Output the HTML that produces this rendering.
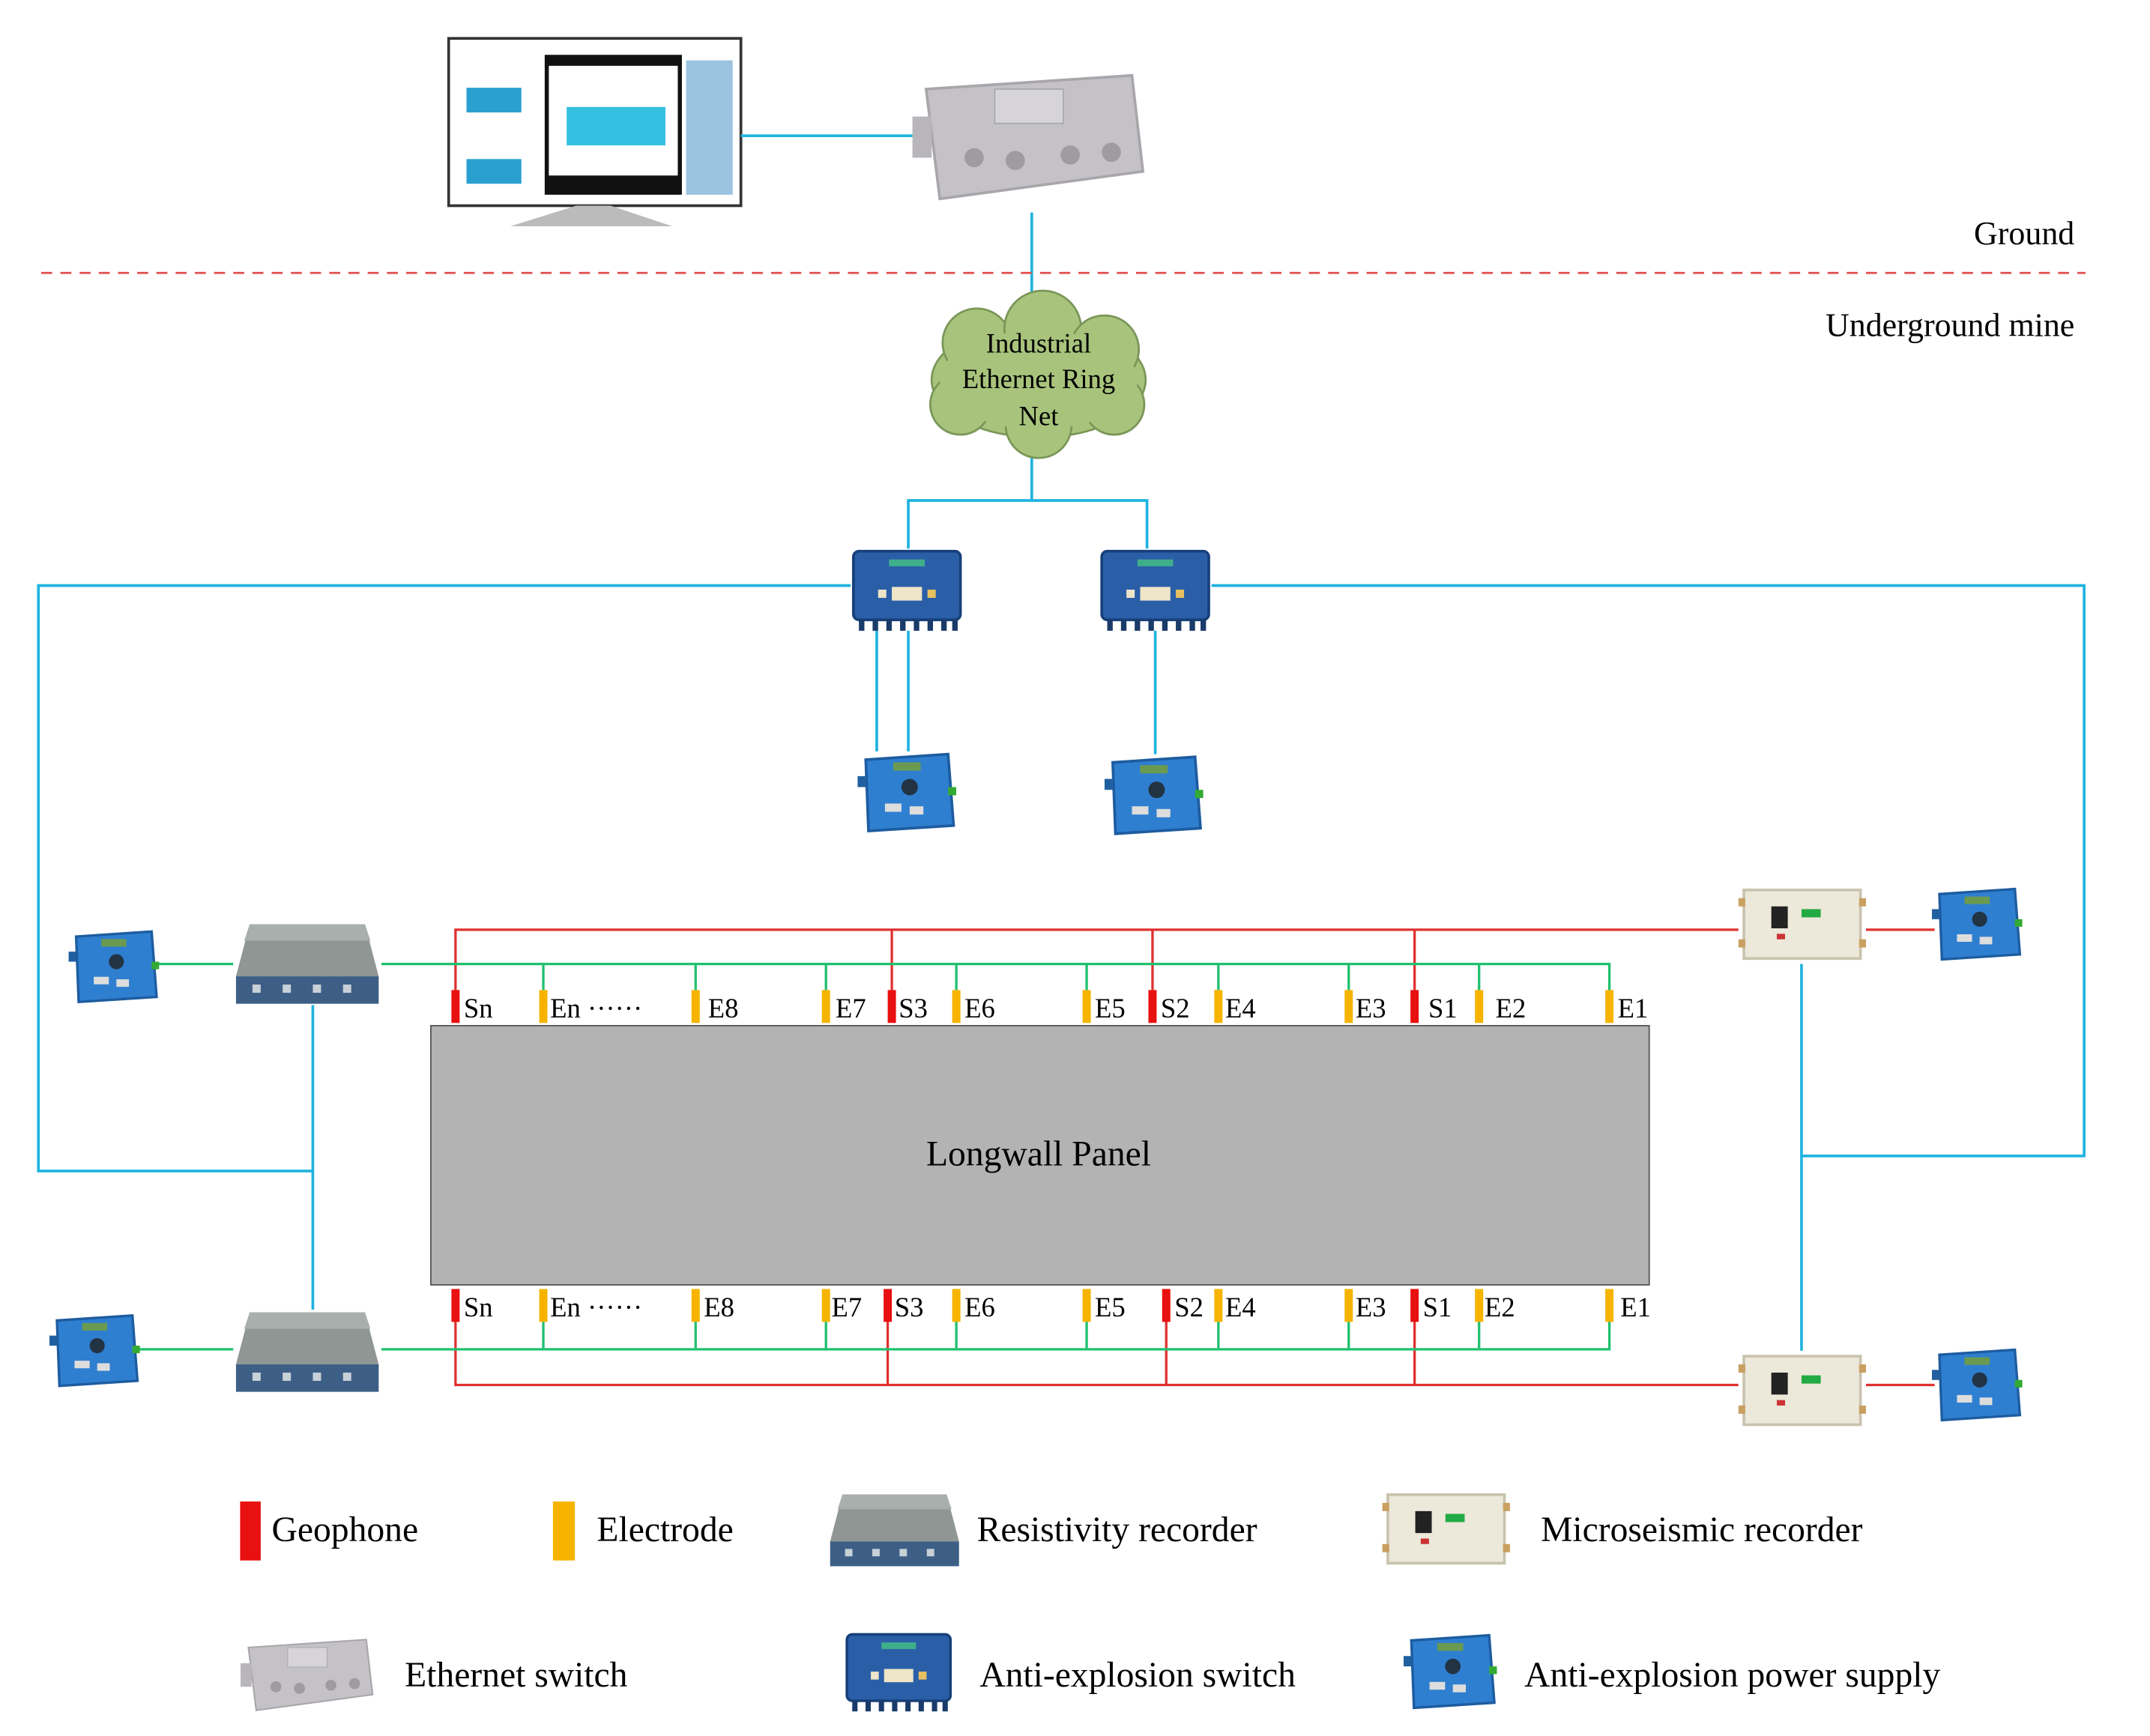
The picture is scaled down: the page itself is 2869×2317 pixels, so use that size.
<!DOCTYPE html>
<html><head><meta charset="utf-8"><style>html,body{margin:0;padding:0;background:#fff}svg{display:block}</style></head>
<body>
<svg width="2869" height="2317" viewBox="0 0 1567 1266" preserveAspectRatio="none" xmlns="http://www.w3.org/2000/svg" font-family="Liberation Serif, serif">
<defs>
<symbol id="bsw" viewBox="0 0 82 62">
<rect x="2" y="2" width="78" height="50" rx="4" fill="#2a5fa8" stroke="#17407a" stroke-width="2"/>
<rect x="28" y="8" width="26" height="5" fill="#3fae8a"/>
<rect x="30" y="28" width="22" height="10" fill="#eee4c8"/>
<rect x="20" y="30" width="6" height="6" fill="#eee4c8"/>
<rect x="56" y="30" width="6" height="6" fill="#e8c060"/>
<g fill="#1a3b6a"><rect x="6" y="52" width="4" height="8"/><rect x="16" y="52" width="4" height="8"/><rect x="26" y="52" width="4" height="8"/><rect x="36" y="52" width="4" height="8"/><rect x="46" y="52" width="4" height="8"/><rect x="56" y="52" width="4" height="8"/><rect x="66" y="52" width="4" height="8"/><rect x="74" y="52" width="4" height="8"/></g>
</symbol>
<symbol id="pwr" viewBox="0 0 72 60">
<polygon points="6,6 66,2 70,54 8,58" fill="#2f7fd0" stroke="#1d5ca0" stroke-width="2"/>
<rect x="26" y="8" width="20" height="6" fill="#6a9a50"/>
<circle cx="38" cy="26" r="6" fill="#234"/>
<rect x="20" y="38" width="12" height="6" fill="#ddd"/>
<rect x="38" y="40" width="10" height="6" fill="#ddd"/>
<rect x="0" y="18" width="6" height="8" fill="#2060a0"/><rect x="66" y="26" width="6" height="6" fill="#3a3"/>
</symbol>
<symbol id="res" viewBox="0 0 108 62">
<polygon points="12,2 96,2 106,40 2,40" fill="#8f9694"/>
<polygon points="12,2 96,2 100,14 8,14" fill="#a9afad"/>
<rect x="2" y="40" width="104" height="20" fill="#3d5f86"/>
<g fill="#c8d0d8"><rect x="14" y="46" width="6" height="6"/><rect x="36" y="46" width="6" height="6"/><rect x="58" y="46" width="6" height="6"/><rect x="80" y="46" width="6" height="6"/></g>
</symbol>
<symbol id="mic" viewBox="0 0 93 58">
<rect x="4" y="4" width="85" height="50" fill="#ece8da" stroke="#c9c3ae" stroke-width="2"/>
<rect x="24" y="16" width="12" height="16" fill="#222"/>
<rect x="46" y="18" width="14" height="6" fill="#2a4"/>
<rect x="28" y="36" width="6" height="4" fill="#c33"/>
<g fill="#c9a060"><rect x="0" y="10" width="5" height="6"/><rect x="0" y="40" width="5" height="6"/><rect x="88" y="10" width="5" height="6"/><rect x="88" y="40" width="5" height="6"/></g>
</symbol>
<symbol id="esw" viewBox="0 0 170 110">
<polygon points="10,20 160,10 168,80 20,100" fill="#c4c2c6" stroke="#a8a6aa" stroke-width="2"/>
<rect x="60" y="20" width="50" height="25" fill="#d6d4d8" stroke="#aaa"/>
<g fill="#9e9ca0"><circle cx="45" cy="70" r="7"/><circle cx="75" cy="72" r="7"/><circle cx="115" cy="68" r="7"/><circle cx="145" cy="66" r="7"/></g>
<rect x="0" y="40" width="14" height="30" fill="#b8b6ba"/>
</symbol>
</defs>

<rect x="327" y="28" width="213" height="122" fill="#fff" stroke="#333" stroke-width="2"/>
<rect x="397" y="40" width="100" height="102" fill="#111"/>
<rect x="400" y="48" width="94" height="80" fill="#fff"/>
<rect x="413" y="78" width="72" height="28" fill="#34c0e0"/>
<rect x="340" y="64" width="40" height="18" fill="#2aa0d0"/>
<rect x="340" y="116" width="40" height="18" fill="#2aa0d0"/>
<rect x="500" y="44" width="34" height="98" fill="#9cc4e0"/>
<polygon points="420,150 445,150 490,165 372,165" fill="#bbb"/>

<use href="#esw" x="665" y="45" width="170" height="110"/>
<g stroke="#1fb3e0" stroke-width="2" fill="none">
<line x1="540" y1="99" x2="665" y2="99"/>
<line x1="752" y1="155" x2="752" y2="230"/>
<line x1="752" y1="330" x2="752" y2="365"/>
<polyline points="662,400 662,365 836,365 836,400"/>
<line x1="639" y1="460" x2="639" y2="548"/>
<line x1="662" y1="460" x2="662" y2="548"/>
<line x1="842" y1="460" x2="842" y2="550"/>
<polyline points="620,427 28,427 28,854 228,854"/>
<line x1="228" y1="733" x2="228" y2="955"/>
<polyline points="883,427 1519,427 1519,843 1313,843"/>
<line x1="1313" y1="703" x2="1313" y2="985"/>
</g>
<line x1="30" y1="199" x2="1520" y2="199" stroke="#e05050" stroke-width="1.5" stroke-dasharray="8,6"/>
<text x="1512" y="178" font-size="24" text-anchor="end">Ground</text>
<text x="1512" y="245" font-size="24" text-anchor="end">Underground mine</text>

<g fill="#a8c47c" stroke="#7a9658" stroke-width="1.5">
<ellipse cx="757" cy="277" rx="78" ry="42"/>
<circle cx="712" cy="250" r="25"/><circle cx="760" cy="240" r="28"/><circle cx="805" cy="255" r="25"/>
<circle cx="700" cy="295" r="22"/><circle cx="757" cy="310" r="24"/><circle cx="812" cy="295" r="22"/>
</g>
<ellipse cx="757" cy="277" rx="72" ry="36" fill="#a8c47c"/>
<text font-size="20" text-anchor="middle"><tspan x="757" y="257">Industrial</tspan><tspan x="757" y="283">Ethernet Ring</tspan><tspan x="757" y="310">Net</tspan></text>

<use href="#bsw" x="620" y="400" width="82" height="62"/>
<use href="#bsw" x="801" y="400" width="82" height="62"/>
<use href="#pwr" x="625" y="548" width="72" height="60"/>
<use href="#pwr" x="805" y="550" width="72" height="60"/>

<rect x="314" y="748" width="888" height="189" fill="#b3b3b3" stroke="#555" stroke-width="1"/>
<text x="757" y="850" font-size="26" text-anchor="middle">Longwall Panel</text>

<g stroke="#e03030" stroke-width="1.8" fill="none">
<polyline points="332,722 332,678 1267,678"/>
<line x1="650" y1="678" x2="650" y2="722"/><line x1="840" y1="678" x2="840" y2="722"/><line x1="1031" y1="678" x2="1031" y2="722"/>
<line x1="1360" y1="678" x2="1410" y2="678"/>
<polyline points="332,963 332,1010 1267,1010"/>
<line x1="647" y1="963" x2="647" y2="1010"/><line x1="850" y1="963" x2="850" y2="1010"/><line x1="1031" y1="963" x2="1031" y2="1010"/>
<line x1="1360" y1="1010" x2="1410" y2="1010"/>
</g>
<g stroke="#20c070" stroke-width="1.8" fill="none">
<polyline points="278,703 1173,703 1173,722"/>
<polyline points="278,984 1173,984 1173,963"/>
<line x1="115" y1="703" x2="170" y2="703"/><line x1="100" y1="984" x2="170" y2="984"/>
<line x1="396" y1="703" x2="396" y2="722"/><line x1="507" y1="703" x2="507" y2="722"/><line x1="602" y1="703" x2="602" y2="722"/><line x1="697" y1="703" x2="697" y2="722"/><line x1="792" y1="703" x2="792" y2="722"/><line x1="888" y1="703" x2="888" y2="722"/><line x1="983" y1="703" x2="983" y2="722"/><line x1="1078" y1="703" x2="1078" y2="722"/>
<line x1="396" y1="963" x2="396" y2="984"/><line x1="507" y1="963" x2="507" y2="984"/><line x1="602" y1="963" x2="602" y2="984"/><line x1="697" y1="963" x2="697" y2="984"/><line x1="792" y1="963" x2="792" y2="984"/><line x1="888" y1="963" x2="888" y2="984"/><line x1="983" y1="963" x2="983" y2="984"/><line x1="1078" y1="963" x2="1078" y2="984"/>
</g>

<g fill="#e81010"><rect x="329" y="722" width="6" height="24"/><rect x="647" y="722" width="6" height="24"/><rect x="837" y="722" width="6" height="24"/><rect x="1028" y="722" width="6" height="24"/></g>
<g fill="#f6b400"><rect x="393" y="722" width="6" height="24"/><rect x="504" y="722" width="6" height="24"/><rect x="599" y="722" width="6" height="24"/><rect x="694" y="722" width="6" height="24"/><rect x="789" y="722" width="6" height="24"/><rect x="885" y="722" width="6" height="24"/><rect x="980" y="722" width="6" height="24"/><rect x="1075" y="722" width="6" height="24"/><rect x="1170" y="722" width="6" height="24"/></g>
<g font-size="20">
<text x="338" y="742">Sn</text><text x="401" y="742">En ······</text><text x="516" y="742">E8</text><text x="609" y="742">E7</text><text x="655" y="742">S3</text><text x="703" y="742">E6</text><text x="798" y="742">E5</text><text x="846" y="742">S2</text><text x="893" y="742">E4</text><text x="988" y="742">E3</text><text x="1041" y="742">S1</text><text x="1090" y="742">E2</text><text x="1179" y="742">E1</text>
</g>
<g fill="#e81010"><rect x="329" y="940" width="6" height="24"/><rect x="644" y="940" width="6" height="24"/><rect x="847" y="940" width="6" height="24"/><rect x="1028" y="940" width="6" height="24"/></g>
<g fill="#f6b400"><rect x="393" y="940" width="6" height="24"/><rect x="504" y="940" width="6" height="24"/><rect x="599" y="940" width="6" height="24"/><rect x="694" y="940" width="6" height="24"/><rect x="789" y="940" width="6" height="24"/><rect x="885" y="940" width="6" height="24"/><rect x="980" y="940" width="6" height="24"/><rect x="1075" y="940" width="6" height="24"/><rect x="1170" y="940" width="6" height="24"/></g>
<g font-size="20">
<text x="338" y="960">Sn</text><text x="401" y="960">En ······</text><text x="513" y="960">E8</text><text x="606" y="960">E7</text><text x="652" y="960">S3</text><text x="703" y="960">E6</text><text x="798" y="960">E5</text><text x="856" y="960">S2</text><text x="893" y="960">E4</text><text x="988" y="960">E3</text><text x="1037" y="960">S1</text><text x="1082" y="960">E2</text><text x="1181" y="960">E1</text>
</g>

<use href="#res" x="170" y="672" width="108" height="62"/>
<use href="#res" x="170" y="955" width="108" height="62"/>
<use href="#pwr" x="50" y="676" width="66" height="58"/>
<use href="#pwr" x="36" y="956" width="66" height="58"/>
<use href="#mic" x="1267" y="645" width="93" height="58"/>
<use href="#mic" x="1267" y="985" width="93" height="58"/>
<use href="#pwr" x="1408" y="645" width="66" height="58"/>
<use href="#pwr" x="1408" y="981" width="66" height="58"/>

<rect x="175" y="1095" width="15" height="43" fill="#e81010"/>
<rect x="403" y="1095" width="16" height="43" fill="#f6b400"/>
<use href="#res" x="603" y="1088" width="98" height="56"/>
<use href="#mic" x="1005" y="1086" width="98" height="58"/>
<use href="#esw" x="175" y="1190" width="98" height="63"/>
<use href="#bsw" x="613" y="1190" width="84" height="60"/>
<use href="#pwr" x="1023" y="1190" width="68" height="58"/>
<g font-size="26">
<text x="198" y="1124">Geophone</text><text x="435" y="1124">Electrode</text><text x="712" y="1124">Resistivity recorder</text><text x="1123" y="1124">Microseismic recorder</text>
<text x="295" y="1230">Ethernet switch</text><text x="714" y="1230">Anti-explosion switch</text><text x="1111" y="1230">Anti-explosion power supply</text>
</g>
</svg>
</body></html>
